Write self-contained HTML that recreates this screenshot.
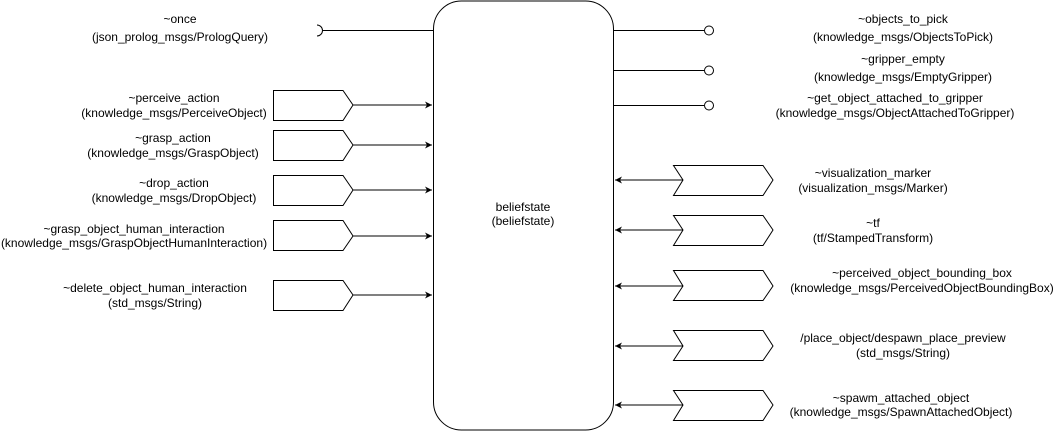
<!DOCTYPE html>
<html><head><meta charset="utf-8"><style>
html,body{margin:0;padding:0;background:#fff;}
svg{display:block;}
text{font-family:"Liberation Sans",Arial,sans-serif;font-size:12px;fill:#000;text-anchor:middle;}
</style></head><body>
<svg width="1056" height="432" viewBox="0 0 1056 432" xmlns="http://www.w3.org/2000/svg">
<defs><marker id="a" markerWidth="8" markerHeight="8" refX="7" refY="4" orient="auto" markerUnits="userSpaceOnUse"><path d="M0,0.5 L7,4 L0,7.5 L2,4 Z" fill="#000"/></marker></defs>
<g fill="none" stroke="#000" stroke-width="1">
<rect x="433.5" y="1" width="180" height="429" rx="28" ry="28" fill="#fff"/>
<line x1="323" y1="30.5" x2="433" y2="30.5"/>
<path d="M317,25 A5.5,5.5 0 0 1 317,36"/>
<path d="M273.5,90.5 H343 L353,105 L343,120.5 H273.5 Z"/>
<path d="M273.5,130.5 H343 L353,145 L343,160.5 H273.5 Z"/>
<path d="M273.5,175.5 H343 L353,190 L343,205.5 H273.5 Z"/>
<path d="M273.5,220.5 H343 L353,236 L343,250.5 H273.5 Z"/>
<path d="M273.5,280.5 H343 L353,295 L343,310.5 H273.5 Z"/>
<line x1="353" y1="105" x2="432" y2="105" marker-end="url(#a)"/>
<line x1="353" y1="145" x2="432" y2="145" marker-end="url(#a)"/>
<line x1="353" y1="190" x2="432" y2="190" marker-end="url(#a)"/>
<line x1="353" y1="236" x2="432" y2="236" marker-end="url(#a)"/>
<line x1="353" y1="295" x2="432" y2="295" marker-end="url(#a)"/>
<line x1="613" y1="30.5" x2="704" y2="30.5"/><circle cx="709" cy="30.5" r="4.5"/>
<line x1="613" y1="70.5" x2="704" y2="70.5"/><circle cx="709" cy="70.5" r="4.5"/>
<line x1="613" y1="105.5" x2="704" y2="105.5"/><circle cx="709" cy="105.5" r="4.5"/>
<path d="M673.5,165.5 H763 L773,180 L763,195.5 H673.5 L683,180 Z"/>
<path d="M673.5,215.5 H763 L773,230 L763,245.5 H673.5 L683,230 Z"/>
<path d="M673.5,270.5 H763 L773,286 L763,300.5 H673.5 L683,286 Z"/>
<path d="M673.5,330.5 H763 L773,346 L763,360.5 H673.5 L683,346 Z"/>
<path d="M673.5,390.5 H763 L773,405 L763,420.5 H673.5 L683,405 Z"/>
<line x1="683" y1="180" x2="615" y2="180" marker-end="url(#a)"/>
<line x1="683" y1="230" x2="615" y2="230" marker-end="url(#a)"/>
<line x1="683" y1="286" x2="615" y2="286" marker-end="url(#a)"/>
<line x1="683" y1="346" x2="615" y2="346" marker-end="url(#a)"/>
<line x1="683" y1="405" x2="615" y2="405" marker-end="url(#a)"/>
</g>
<text x="523" y="211">beliefstate</text><text x="523" y="225">(beliefstate)</text>
<text x="180" y="23">~once</text><text x="180" y="41">(json_prolog_msgs/PrologQuery)</text>
<text x="174" y="102">~perceive_action</text><text x="174" y="117">(knowledge_msgs/PerceiveObject)</text>
<text x="173" y="142">~grasp_action</text><text x="173" y="157">(knowledge_msgs/GraspObject)</text>
<text x="174" y="187">~drop_action</text><text x="174" y="202">(knowledge_msgs/DropObject)</text>
<text x="134" y="233">~grasp_object_human_interaction</text><text x="134" y="247">(knowledge_msgs/GraspObjectHumanInteraction)</text>
<text x="155" y="292">~delete_object_human_interaction</text><text x="155" y="307">(std_msgs/String)</text>
<text x="903" y="23">~objects_to_pick</text><text x="903" y="41">(knowledge_msgs/ObjectsToPick)</text>
<text x="903" y="63">~gripper_empty</text><text x="903" y="81">(knowledge_msgs/EmptyGripper)</text>
<text x="895" y="102">~get_object_attached_to_gripper</text><text x="895" y="117">(knowledge_msgs/ObjectAttachedToGripper)</text>
<text x="873" y="177">~visualization_marker</text><text x="873" y="192">(visualization_msgs/Marker)</text>
<text x="873" y="227">~tf</text><text x="873" y="242">(tf/StampedTransform)</text>
<text x="922" y="277">~perceived_object_bounding_box</text><text x="922" y="292">(knowledge_msgs/PerceivedObjectBoundingBox)</text>
<text x="903" y="342">/place_object/despawn_place_preview</text><text x="903" y="357">(std_msgs/String)</text>
<text x="901" y="402">~spawm_attached_object</text><text x="901" y="416">(knowledge_msgs/SpawnAttachedObject)</text>
</svg>
</body></html>
